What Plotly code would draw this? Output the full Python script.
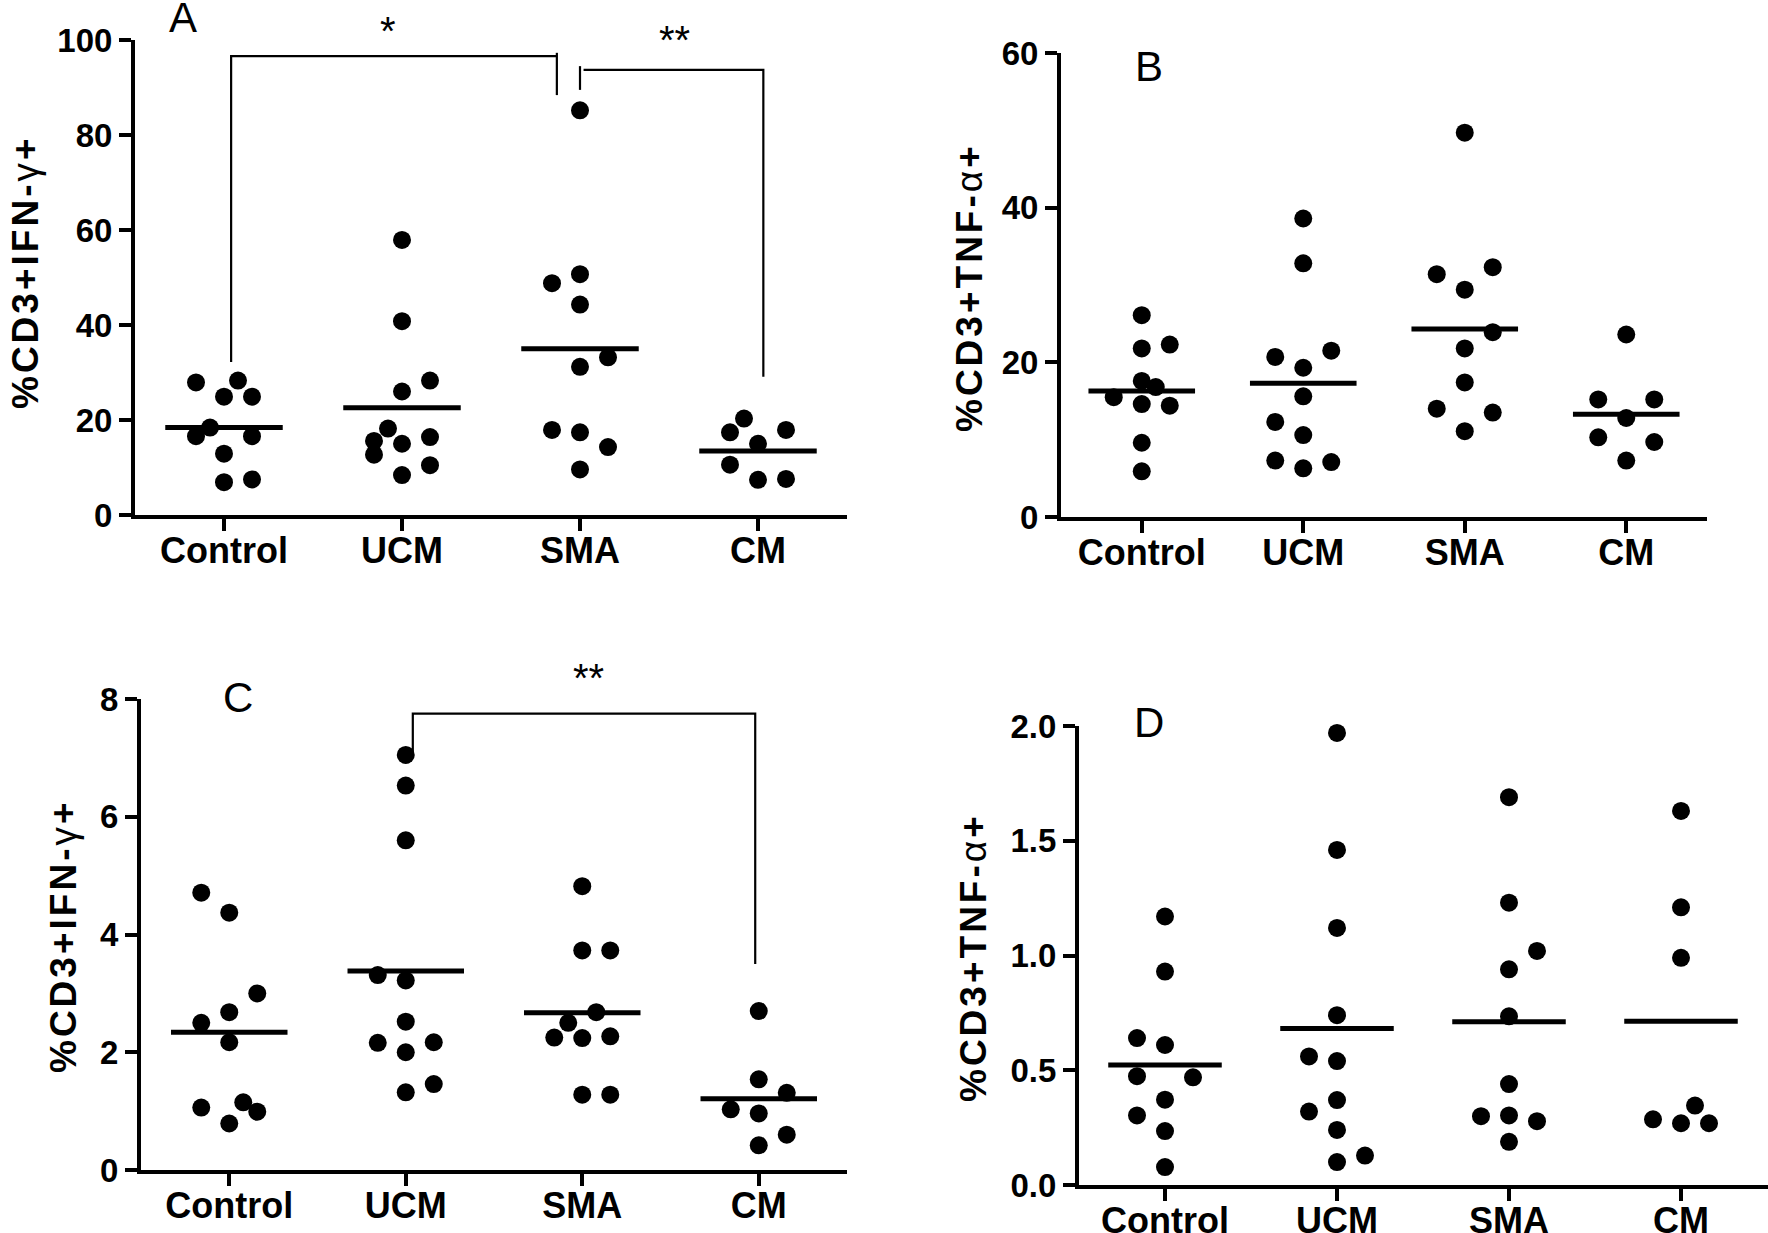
import plotly.graph_objects as go

W, H = 1768, 1233

categories = ["Control", "UCM", "SMA", "CM"]

# ---------- Panel A: %CD3+IFN-γ+ ----------
a_control = [27.9, 28.3, 24.9, 24.9, 18.4, 16.6, 16.6, 12.9, 6.9, 7.5]
a_ucm = [57.9, 40.8, 28.3, 26.0, 18.2, 15.6, 15.0, 16.4, 12.7, 10.5, 8.4]
a_sma = [85.2, 48.8, 50.7, 44.3, 33.2, 31.2, 17.9, 17.4, 14.3, 9.6]
a_cm = [20.3, 17.4, 17.9, 15.0, 10.6, 7.4, 7.6]
a_means = [18.4, 22.6, 35.0, 13.5]

# ---------- Panel B: %CD3+TNF-α+ ----------
b_control = [26.1, 21.8, 22.3, 17.6, 16.8, 15.5, 14.6, 14.4, 9.6, 5.9]
b_ucm = [38.6, 32.8, 20.7, 21.5, 19.3, 15.6, 12.3, 10.6, 7.3, 7.1, 6.3]
b_sma = [49.7, 31.4, 32.3, 29.4, 23.9, 21.8, 17.4, 14.0, 13.5, 11.1]
b_cm = [23.6, 15.2, 15.2, 12.8, 10.3, 9.7, 7.3]
b_means = [16.3, 17.3, 24.3, 13.3]

# ---------- Panel C: %CD3+IFN-γ+ ----------
c_control = [4.71, 4.37, 3.0, 2.68, 2.50, 2.17, 1.06, 1.15, 0.99, 0.79]
c_ucm = [7.05, 6.53, 5.60, 3.31, 3.22, 2.52, 2.16, 2.17, 2.0, 1.46, 1.32]
c_sma = [4.82, 3.73, 3.73, 2.68, 2.50, 2.25, 2.24, 2.27, 1.28, 1.28]
c_cm = [2.70, 1.54, 1.31, 1.03, 0.96, 0.60, 0.42]
c_means = [2.34, 3.38, 2.67, 1.21]

# ---------- Panel D: %CD3+TNF-α+ ----------
d_control = [1.17, 0.93, 0.64, 0.61, 0.474, 0.469, 0.372, 0.303, 0.235, 0.078]
d_ucm = [1.97, 1.46, 1.12, 0.74, 0.56, 0.54, 0.37, 0.32, 0.24, 0.128, 0.10]
d_sma = [1.69, 1.23, 1.02, 0.94, 0.735, 0.44, 0.30, 0.303, 0.278, 0.188]
d_cm = [1.63, 1.21, 0.99, 0.346, 0.286, 0.269, 0.269]
d_means = [0.523, 0.682, 0.711, 0.713]

# y tick labels
a_ticks = [0, 20, 40, 60, 80, 100]
b_ticks = [0, 20, 40, 60]
c_ticks = [0, 2, 4, 6, 8]
d_ticks = [0.0, 0.5, 1.0, 1.5, 2.0]
d_ticktext = ["0.0", "0.5", "1.0", "1.5", "2.0"]

# horizontal scatter offsets (column-scatter layout, in half-dot steps)
a_off = [[-2, 1, 0, 2, -1, -2, 2, 0, 0, 2],
         [0, 0, 2, 0, -1, -2, 0, 2, -2, 2, 0],
         [0, -2, 0, 0, 2, 0, -2, 0, 2, 0],
         [-1, -2, 2, 0, -2, 0, 2]]
b_off = [[0, 0, 2, 0, 1, -2, 0, 2, 0, 0],
         [0, 0, -2, 2, 0, 0, -2, 0, -2, 2, 0],
         [0, -2, 2, 0, 2, 0, 0, -2, 2, 0],
         [0, -2, 2, 0, -2, 2, 0]]
c_off = [[-2, 0, 2, 0, -2, 0, -2, 1, 2, 0],
         [0, 0, 0, -2, 0, 0, -2, 2, 0, 2, 0],
         [0, 0, 2, 1, -1, -2, 0, 2, 0, 2],
         [0, 0, 2, -2, 0, 2, 0]]
d_off = [[0, 0, -2, 0, -2, 2, 0, -2, 0, 0],
         [0, 0, 0, 0, -2, 0, 0, -2, 0, 2, 0],
         [0, 0, 2, 0, 0, 0, -2, 0, 2, 0],
         [0, 0, 0, 1, -2, 0, 2]]

FONT = "Arial, Liberation Sans, Helvetica, sans-serif"

panels = [
    dict(groups=[a_control, a_ucm, a_sma, a_cm], means=a_means, off=a_off,
         box=(135, 847, 40, 515), yr=[0, 100], ticks=a_ticks, ticktext=[str(t) for t in a_ticks],
         title="IFN", tpos=(25, 272), letter="A", lpos=(183, 18)),
    dict(groups=[b_control, b_ucm, b_sma, b_cm], means=b_means, off=b_off,
         box=(1061, 1707, 53, 517), yr=[0, 60], ticks=b_ticks, ticktext=[str(t) for t in b_ticks],
         title="TNF", tpos=(970, 288), letter="B", lpos=(1149, 67)),
    dict(groups=[c_control, c_ucm, c_sma, c_cm], means=c_means, off=c_off,
         box=(141, 847, 699, 1170), yr=[0, 8], ticks=c_ticks, ticktext=[str(t) for t in c_ticks],
         title="IFN", tpos=(63, 936), letter="C", lpos=(238, 697)),
    dict(groups=[d_control, d_ucm, d_sma, d_cm], means=d_means, off=d_off,
         box=(1079, 1768, 726, 1185), yr=[0, 2.0], ticks=d_ticks, ticktext=d_ticktext,
         title="TNF", tpos=(973, 958), letter="D", lpos=(1149, 723)),
]

titles = {
    "IFN": "<span style='letter-spacing:3px'><b>%CD3+IFN-</b><span style='font-weight:normal'>γ</span><b>+</b></span>",
    "TNF": "<span style='letter-spacing:3px'><b>%CD3+TNF-</b><span style='font-weight:normal'>α</span><b>+</b></span>",
}

fig = go.Figure()
layout = dict(width=W, height=H, margin=dict(l=0, r=0, t=0, b=0, autoexpand=False),
              paper_bgcolor="white", plot_bgcolor="white", showlegend=False,
              template="none")
annotations = []
shapes = []

STEP_PX = 14.0
HALF_W = 0.33

for i, p in enumerate(panels, start=1):
    L, R, T, B = p["box"]
    spacing = (min(R, 1770) - L) / 4.0
    if i == 4:
        spacing = 172.0
    xr = [-0.5, -0.5 + (R - L) / spacing]
    step = STEP_PX / spacing
    xs, ys = [], []
    for g, (vals, offs) in enumerate(zip(p["groups"], p["off"])):
        for v, k in zip(vals, offs):
            xs.append(g + k * step)
            ys.append(v)
    xa = "x" if i == 1 else f"x{i}"
    ya = "y" if i == 1 else f"y{i}"
    fig.add_trace(go.Scatter(x=xs, y=ys, mode="markers", xaxis=xa, yaxis=ya,
                             marker=dict(color="black", size=18, line=dict(width=0)),
                             cliponaxis=False, hoverinfo="skip"))
    mx, my = [], []
    for g, m in enumerate(p["means"]):
        mx += [g - HALF_W, g + HALF_W, None]
        my += [m, m, None]
    fig.add_trace(go.Scatter(x=mx, y=my, mode="lines", xaxis=xa, yaxis=ya,
                             line=dict(color="black", width=5), cliponaxis=False,
                             hoverinfo="skip"))
    axkw = dict(showgrid=False, zeroline=False, showline=True, linewidth=4,
                linecolor="black", ticks="outside", ticklen=12, tickwidth=4,
                tickcolor="black", automargin=False)
    layout["xaxis" if i == 1 else f"xaxis{i}"] = dict(
        axkw, domain=[L / W, min(R, W) / W], range=xr, anchor=ya,
        tickvals=[0, 1, 2, 3], ticktext=categories, ticklabelstandoff=-11,
        tickfont=dict(family=FONT, size=36, color="black", weight="bold"))
    layout["yaxis" if i == 1 else f"yaxis{i}"] = dict(
        axkw, domain=[1 - B / H, 1 - T / H], range=p["yr"], anchor=xa,
        tickvals=p["ticks"], ticktext=p["ticktext"],
        tickfont=dict(family=FONT, size=33, color="black", weight="bold"))
    tx, ty = p["tpos"]
    annotations.append(dict(text=titles[p["title"]], x=tx / W, y=1 - ty / H,
                            xref="paper", yref="paper", textangle=-90,
                            showarrow=False, xanchor="center", yanchor="middle",
                            font=dict(family=FONT, size=37, color="black")))
    lx, ly = p["lpos"]
    annotations.append(dict(text=p["letter"], x=lx / W, y=1 - ly / H,
                            xref="paper", yref="paper", showarrow=False,
                            xanchor="center", yanchor="middle",
                            font=dict(family=FONT, size=42, color="black")))

# significance brackets (data coordinates of each panel)
brackets = [
    ("x", "y", [(0.04, 32.2), (0.04, 96.6), (1.87, 96.6)]),
    ("x", "y", [(1.87, 97.3), (1.87, 88.4)]),
    ("x", "y", [(2.0, 94.5), (2.0, 89.5)]),
    ("x", "y", [(2.02, 93.7), (3.03, 93.7), (3.03, 29.1)]),
    ("x3", "y3", [(1.04, 7.07), (1.04, 7.75), (2.98, 7.75), (2.98, 3.5)]),
]
for xr_, yr_, pts in brackets:
    path = "M " + " L ".join(f"{x},{y}" for x, y in pts)
    shapes.append(dict(type="path", path=path, xref=xr_, yref=yr_,
                       line=dict(color="black", width=2.2)))

stars = [("*", 388, 31), ("**", 674, 40), ("**", 588, 678)]
for s, sx, sy in stars:
    annotations.append(dict(text=s, x=sx / W, y=1 - sy / H, xref="paper", yref="paper",
                            showarrow=False, xanchor="center", yanchor="middle",
                            font=dict(family=FONT, size=40, color="black")))

layout["annotations"] = annotations
layout["shapes"] = shapes
fig.update_layout(**layout)
fig.write_html("out.html", config={"displayModeBar": False},
               post_script="document.body.style.margin='0';document.body.style.padding='0';")
